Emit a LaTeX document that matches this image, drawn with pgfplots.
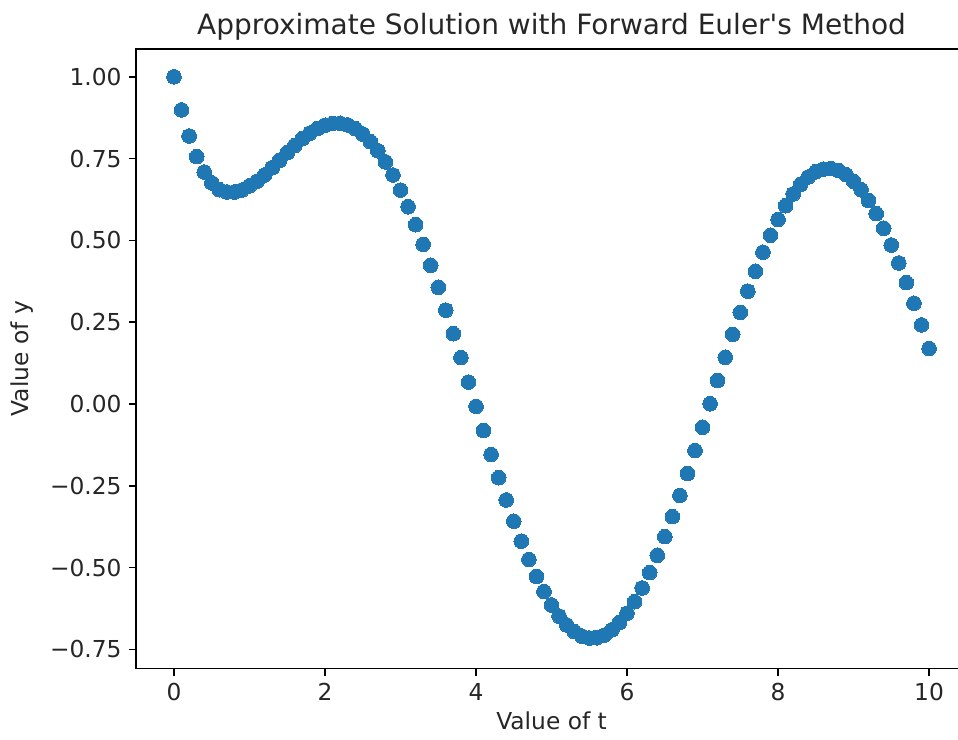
\documentclass[border=0pt]{standalone}
\usepackage{fontspec}
\setmainfont{DejaVu Sans}
\usepackage{pgfplots}
\pgfplotsset{compat=1.18}
\definecolor{mplblue}{RGB}{31,119,180}

\begin{document}
\begin{tikzpicture}
\begin{axis}[
  scale only axis,
  width=622.9pt, height=464.6pt,
  xmin=-0.5, xmax=10.5, ymin=-0.808, ymax=1.085,
  xtick={0,2,4,6,8,10},
  ytick={-0.75,-0.5,-0.25,0,0.25,0.5,0.75,1},
  yticklabels={−0.75,−0.50,−0.25,0.00,0.25,0.50,0.75,1.00},
  /pgf/number format/assume math mode=true,
  tick pos=left, tick align=outside,
  major tick length=5.5pt,
  every tick/.style={black, line width=1.2pt},
  axis line style={line width=1.2pt},
  tick label style={font=\fontsize{17.5}{20}\selectfont, text=black!85},
  xticklabel style={yshift=-2pt},
  yticklabel style={xshift=-2pt},
  label style={font=\fontsize{17.5}{20}\selectfont, text=black!85},
  xlabel style={yshift=-1pt},
  ylabel style={yshift=6pt},
  xlabel={Value of t}, ylabel={Value of y},
  title={Approximate Solution with Forward Euler\textquotesingle s Method},
  title style={font=\fontsize{21}{24}\selectfont, text=black!85, yshift=-3pt},
]
\addplot[only marks, mark=*, mark size=5.5pt, color=mplblue,
  mark options={fill=mplblue, draw=mplblue, line width=0pt}] table {
t y
0.0 1.000
0.1 0.899
0.2 0.819
0.3 0.756
0.4 0.709
0.5 0.676
0.6 0.655
0.7 0.648
0.8 0.648
0.9 0.654
1.0 0.667
1.1 0.681
1.2 0.700
1.3 0.722
1.4 0.745
1.5 0.768
1.6 0.790
1.7 0.811
1.8 0.828
1.9 0.842
2.0 0.852
2.1 0.857
2.2 0.858
2.3 0.853
2.4 0.842
2.5 0.825
2.6 0.802
2.7 0.774
2.8 0.740
2.9 0.700
3.0 0.654
3.1 0.603
3.2 0.548
3.3 0.488
3.4 0.424
3.5 0.357
3.6 0.287
3.7 0.215
3.8 0.142
3.9 0.067
4.0 -0.007
4.1 -0.081
4.2 -0.154
4.3 -0.225
4.4 -0.293
4.5 -0.358
4.6 -0.419
4.7 -0.475
4.8 -0.527
4.9 -0.573
5.0 -0.614
5.1 -0.648
5.2 -0.675
5.3 -0.695
5.4 -0.709
5.5 -0.715
5.6 -0.714
5.7 -0.706
5.8 -0.690
5.9 -0.668
6.0 -0.639
6.1 -0.604
6.2 -0.562
6.3 -0.515
6.4 -0.462
6.5 -0.405
6.6 -0.344
6.7 -0.279
6.8 -0.212
6.9 -0.142
7.0 -0.071
7.1 0.001
7.2 0.072
7.3 0.143
7.4 0.213
7.5 0.280
7.6 0.345
7.7 0.406
7.8 0.464
7.9 0.516
8.0 0.564
8.1 0.606
8.2 0.642
8.3 0.671
8.4 0.694
8.5 0.710
8.6 0.718
8.7 0.720
8.8 0.714
8.9 0.701
9.0 0.681
9.1 0.655
9.2 0.622
9.3 0.582
9.4 0.537
9.5 0.486
9.6 0.431
9.7 0.371
9.8 0.308
9.9 0.242
10.0 0.170
};
\coordinate (sw) at (rel axis cs:0,0);
\end{axis}
% the reference is cut off just short of the right spine
\pgfresetboundingbox
\useasboundingbox ([shift={(-102.2pt,-53.6pt)}]sw) rectangle ([shift={(616.3pt,501.35pt)}]sw);
\end{tikzpicture}
\end{document}
